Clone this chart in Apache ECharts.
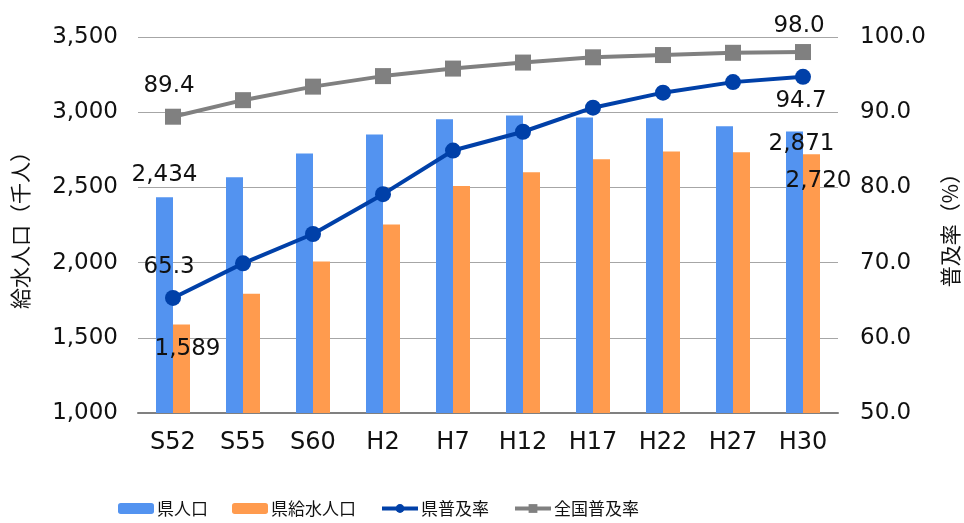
<!DOCTYPE html>
<html>
<head>
<meta charset="utf-8">
<script src="https://cdn.jsdelivr.net/npm/echarts@6/dist/echarts.min.js"></script>
<style>
html,body{margin:0;padding:0;background:#fff;}
#chart{width:964px;height:523px;}
</style>
</head>
<body>
<div id="chart"></div>
<script>
const categories = ['S52','S55','S60','H2','H7','H12','H17','H22','H27','H30'];
const prefPopulation = [2434, 2567, 2726, 2852, 2953, 2978, 2965, 2959, 2907, 2871];
const prefServedPopulation = [1589, 1793, 2007, 2253, 2510, 2600, 2687, 2739, 2733, 2720];
const prefRate = [65.3, 69.9, 73.8, 79.1, 84.9, 87.4, 90.6, 92.6, 94.0, 94.7];
const nationalRate = [89.4, 91.6, 93.4, 94.8, 95.8, 96.6, 97.3, 97.6, 97.9, 98.0];
const leftTicks = {min: 1000, max: 3500, interval: 500};
const rightTicks = {min: 50, max: 100, interval: 10};

const NUM_FONT = 'DejaVu Sans, Noto Sans CJK JP, sans-serif';
const JP_FONT = 'Noto Sans CJK JP, sans-serif';
const LBL = {fontFamily: NUM_FONT, fontSize: 23, color: '#111'};

function withEndLabels(values, firstLabel, lastLabel) {
  return values.map((v, i) => {
    if (i === 0) return {value: v, label: Object.assign({show: true}, LBL, firstLabel)};
    if (i === values.length - 1) return {value: v, label: Object.assign({show: true}, LBL, lastLabel)};
    return v;
  });
}
const fmtThousands = p => Number(p.value).toLocaleString('en-US');
const fmtOne = p => Number(p.value).toFixed(1);

const chart = echarts.init(document.getElementById('chart'), null, {renderer: 'canvas'});
chart.setOption({
  animation: false,
  backgroundColor: '#ffffff',
  grid: {left: 138, right: 126, top: 37, bottom: 110, containLabel: false, outerBoundsMode: 'none'},
  legend: {
    left: 113, top: 495,
    itemWidth: 36, itemHeight: 11, itemGap: 24,
    lineStyle: {width: 4},
    textStyle: {fontFamily: JP_FONT, fontSize: 17, color: '#111', padding: [0, 0, 0, -2]},
    data: ['県人口', '県給水人口', '県普及率', '全国普及率']
  },
  xAxis: {
    type: 'category', data: categories,
    axisLine: {lineStyle: {color: '#808080', width: 2}},
    axisTick: {show: false},
    axisLabel: {fontFamily: NUM_FONT, fontSize: 24, color: '#111', margin: 18}
  },
  yAxis: [
    {
      type: 'value', min: leftTicks.min, max: leftTicks.max, interval: leftTicks.interval,
      name: '給水人口（千人）', nameLocation: 'middle', nameRotate: 90, nameGap: 107,
      nameTextStyle: {fontFamily: JP_FONT, fontSize: 21, color: '#111'},
      axisLine: {show: false}, axisTick: {show: false},
      axisLabel: {fontFamily: NUM_FONT, fontSize: 23, color: '#111', margin: 20,
        formatter: v => Number(v).toLocaleString('en-US')},
      splitLine: {lineStyle: {color: '#a6a6a6', width: 1}}
    },
    {
      type: 'value', min: rightTicks.min, max: rightTicks.max, interval: rightTicks.interval,
      name: '普及率（%）', nameLocation: 'middle', nameRotate: 90, nameGap: 102,
      nameTextStyle: {fontFamily: JP_FONT, fontSize: 21, color: '#111'},
      axisLine: {show: false}, axisTick: {show: false},
      axisLabel: {fontFamily: NUM_FONT, fontSize: 23, color: '#111', margin: 22,
        formatter: v => Number(v).toFixed(1)},
      splitLine: {show: false}
    }
  ],
  series: [
    {
      name: '県人口', type: 'bar', yAxisIndex: 0, barWidth: 17, barGap: '0%',
      itemStyle: {color: '#5393F0'},
      data: withEndLabels(prefPopulation,
        {position: 'top', offset: [0, -6], formatter: fmtThousands},
        {position: 'top', offset: [7, 29], formatter: fmtThousands})
    },
    {
      name: '県給水人口', type: 'bar', yAxisIndex: 0, barWidth: 17, barGap: '0%',
      itemStyle: {color: '#FF9B4E'},
      data: withEndLabels(prefServedPopulation,
        {position: 'top', offset: [6, 41], formatter: fmtThousands},
        {position: 'top', offset: [7, 43], formatter: fmtThousands})
    },
    {
      name: '県普及率', type: 'line', yAxisIndex: 1,
      symbol: 'circle', symbolSize: 16,
      lineStyle: {color: '#0040A8', width: 4},
      itemStyle: {color: '#0040A8'},
      data: withEndLabels(prefRate,
        {position: 'top', offset: [-4, -6], formatter: fmtOne},
        {position: 'bottom', offset: [-2, 0], formatter: fmtOne})
    },
    {
      name: '全国普及率', type: 'line', yAxisIndex: 1,
      symbol: 'rect', symbolSize: 16,
      lineStyle: {color: '#808080', width: 4},
      itemStyle: {color: '#808080'},
      data: withEndLabels(nationalRate,
        {position: 'top', offset: [-4, -6], formatter: fmtOne},
        {position: 'top', offset: [-4, -2], formatter: fmtOne})
    }
  ]
});
</script>
</body>
</html>
